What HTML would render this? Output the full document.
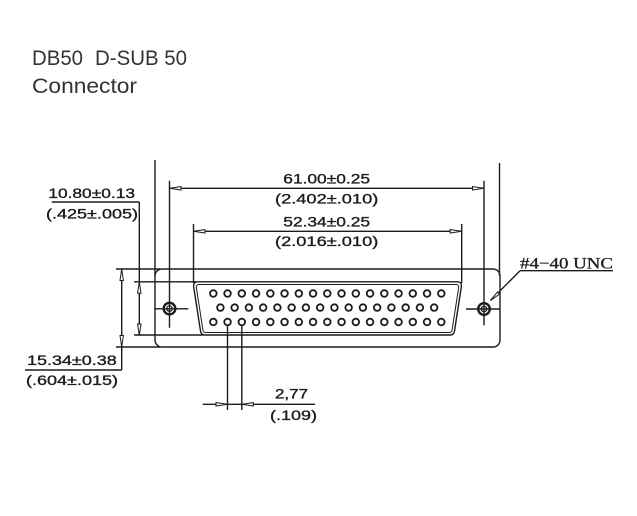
<!DOCTYPE html>
<html>
<head>
<meta charset="utf-8">
<style>
html,body{margin:0;padding:0;background:#fff;}
svg{display:block;}
</style>
</head>
<body>
<svg width="637" height="516" viewBox="0 0 637 516" xmlns="http://www.w3.org/2000/svg">
<rect width="637" height="516" fill="#fff"/>
<!-- Title -->
<g font-family="Liberation Sans, sans-serif" font-size="21" fill="#333">
<text x="32" y="65" textLength="51" lengthAdjust="spacingAndGlyphs">DB50</text>
<text x="95" y="65" textLength="92" lengthAdjust="spacingAndGlyphs">D-SUB 50</text>
<text x="32" y="93" textLength="105" lengthAdjust="spacingAndGlyphs">Connector</text>
</g>

<g stroke="#1c1c1c" stroke-width="1.4" fill="none">
<!-- flange -->
<rect x="155" y="269" width="345" height="78" rx="7" ry="7"/>
<!-- extension lines left -->
<line x1="116" y1="269" x2="160" y2="269"/>
<line x1="116" y1="347" x2="160" y2="347"/>
<line x1="134" y1="281.8" x2="196" y2="281.8"/>
<line x1="134" y1="335" x2="203" y2="335"/>
<!-- vertical extension lines -->
<line x1="155" y1="160" x2="155" y2="276"/>
<line x1="499.5" y1="163" x2="499.5" y2="276"/>
<line x1="169.5" y1="180.7" x2="169.5" y2="327.7"/>
<line x1="484" y1="180.7" x2="484" y2="325.5"/>
<line x1="193.5" y1="224" x2="193.5" y2="283"/>
<line x1="461.7" y1="224" x2="461.7" y2="283"/>
<!-- 61.00 dimension -->
<line x1="169.5" y1="188.3" x2="484" y2="188.3"/>
<!-- 52.34 dimension -->
<line x1="193.5" y1="231.3" x2="461.7" y2="231.3"/>
<!-- 10.80 dimension -->
<line x1="51.7" y1="202" x2="139.3" y2="202"/>
<line x1="139.3" y1="202" x2="139.3" y2="335.5"/>
<!-- 15.34 dimension -->
<line x1="25" y1="370" x2="121.7" y2="370"/>
<line x1="121.7" y1="269" x2="121.7" y2="370"/>
<!-- crosshairs -->
<line x1="154.3" y1="308.8" x2="188.3" y2="308.8"/>
<line x1="466" y1="309" x2="500" y2="309"/>
<!-- D shell -->
<path d="M198,281.8 L457,281.8 Q462,281.8 461.3,287 L454.5,331 Q454,335 450,335 L205,335 Q201,335 200.5,331 L193.7,287 Q193,281.8 198,281.8 Z"/>
<path d="M199,284.5 L456,284.5 Q459,284.5 458.6,288 L452,330.5 Q451.5,332.5 449,332.5 L206,332.5 Q203.5,332.5 203,330.5 L196.4,288 Q196,284.5 199,284.5 Z" stroke-width="1"/>
<!-- pin leaders -->
<line x1="227.5" y1="325" x2="227.5" y2="410"/>
<line x1="241.8" y1="325" x2="241.8" y2="410"/>
<line x1="202.7" y1="404.3" x2="315" y2="404.3"/>
<!-- #4-40 leader -->
<line x1="520" y1="270.7" x2="613" y2="270.7"/>
<line x1="520" y1="270.7" x2="490.5" y2="300.5"/>
</g>

<!-- arrowheads -->
<g stroke="#1c1c1c" stroke-width="1" fill="#fff">
<path d="M169.5,188.3 L181,186.6 L181,190 Z"/>
<path d="M484,188.3 L472.5,186.6 L472.5,190 Z"/>
<path d="M193.5,231.3 L205,229.6 L205,233 Z"/>
<path d="M461.7,231.3 L450.2,229.6 L450.2,233 Z"/>
<path d="M121.7,269 L120,280.5 L123.4,280.5 Z"/>
<path d="M121.7,347 L120,335.5 L123.4,335.5 Z"/>
<path d="M139.3,281.8 L137.6,293.3 L141,293.3 Z"/>
<path d="M139.3,335.5 L137.6,324 L141,324 Z"/>
<path d="M227.5,404.3 L216,402.6 L216,406 Z"/>
<path d="M241.8,404.3 L253.3,402.6 L253.3,406 Z"/>
<path d="M490.5,300.5 L497.5,292 L499.5,294.2 Z"/>
</g>

<!-- screws -->
<g stroke="#1c1c1c" fill="none">
<circle cx="169.5" cy="308.6" r="5.8" stroke-width="2.4"/>
<circle cx="169.5" cy="308.6" r="2.8" stroke-width="1.2"/>
<circle cx="484" cy="309" r="5.8" stroke-width="2.4"/>
<circle cx="484" cy="309" r="2.8" stroke-width="1.2"/>
</g>

<!-- pins -->
<g stroke="#1c1c1c" stroke-width="1.8" fill="#fff">
<circle cx="213.3" cy="293.5" r="3.3"/><circle cx="227.55" cy="293.5" r="3.3"/><circle cx="241.8" cy="293.5" r="3.3"/><circle cx="256.05" cy="293.5" r="3.3"/><circle cx="270.3" cy="293.5" r="3.3"/><circle cx="284.55" cy="293.5" r="3.3"/><circle cx="298.8" cy="293.5" r="3.3"/><circle cx="313.05" cy="293.5" r="3.3"/><circle cx="327.3" cy="293.5" r="3.3"/><circle cx="341.55" cy="293.5" r="3.3"/><circle cx="355.8" cy="293.5" r="3.3"/><circle cx="370.05" cy="293.5" r="3.3"/><circle cx="384.3" cy="293.5" r="3.3"/><circle cx="398.55" cy="293.5" r="3.3"/><circle cx="412.8" cy="293.5" r="3.3"/><circle cx="427.05" cy="293.5" r="3.3"/><circle cx="441.3" cy="293.5" r="3.3"/>
<circle cx="220.4" cy="307.6" r="3.3"/><circle cx="234.65" cy="307.6" r="3.3"/><circle cx="248.9" cy="307.6" r="3.3"/><circle cx="263.15" cy="307.6" r="3.3"/><circle cx="277.4" cy="307.6" r="3.3"/><circle cx="291.65" cy="307.6" r="3.3"/><circle cx="305.9" cy="307.6" r="3.3"/><circle cx="320.15" cy="307.6" r="3.3"/><circle cx="334.4" cy="307.6" r="3.3"/><circle cx="348.65" cy="307.6" r="3.3"/><circle cx="362.9" cy="307.6" r="3.3"/><circle cx="377.15" cy="307.6" r="3.3"/><circle cx="391.4" cy="307.6" r="3.3"/><circle cx="405.65" cy="307.6" r="3.3"/><circle cx="419.9" cy="307.6" r="3.3"/><circle cx="434.15" cy="307.6" r="3.3"/>
<circle cx="213.3" cy="322" r="3.3"/><circle cx="227.55" cy="322" r="3.3"/><circle cx="241.8" cy="322" r="3.3"/><circle cx="256.05" cy="322" r="3.3"/><circle cx="270.3" cy="322" r="3.3"/><circle cx="284.55" cy="322" r="3.3"/><circle cx="298.8" cy="322" r="3.3"/><circle cx="313.05" cy="322" r="3.3"/><circle cx="327.3" cy="322" r="3.3"/><circle cx="341.55" cy="322" r="3.3"/><circle cx="355.8" cy="322" r="3.3"/><circle cx="370.05" cy="322" r="3.3"/><circle cx="384.3" cy="322" r="3.3"/><circle cx="398.55" cy="322" r="3.3"/><circle cx="412.8" cy="322" r="3.3"/><circle cx="427.05" cy="322" r="3.3"/><circle cx="441.3" cy="322" r="3.3"/>
</g>

<!-- dimension text -->
<g font-family="Liberation Sans, sans-serif" font-size="14" fill="#1c1c1c" stroke="#1c1c1c" stroke-width="0.35">
<text x="283.3" y="183.5" textLength="86.7" lengthAdjust="spacingAndGlyphs">61.00±0.25</text>
<text x="275" y="203.3" textLength="103.3" lengthAdjust="spacingAndGlyphs">(2.402±.010)</text>
<text x="283.3" y="226.7" textLength="86.7" lengthAdjust="spacingAndGlyphs">52.34±0.25</text>
<text x="275" y="246" textLength="103.3" lengthAdjust="spacingAndGlyphs">(2.016±.010)</text>
<text x="48.3" y="198" textLength="86.7" lengthAdjust="spacingAndGlyphs">10.80±0.13</text>
<text x="46" y="218.3" textLength="92" lengthAdjust="spacingAndGlyphs">(.425±.005)</text>
<text x="27" y="365" textLength="89.7" lengthAdjust="spacingAndGlyphs">15.34±0.38</text>
<text x="26" y="385" textLength="92" lengthAdjust="spacingAndGlyphs">(.604±.015)</text>
<text x="275" y="398.3" textLength="33" lengthAdjust="spacingAndGlyphs">2,77</text>
<text x="270" y="420" textLength="47" lengthAdjust="spacingAndGlyphs">(.109)</text>
</g>
<text x="520" y="268.3" font-family="Liberation Serif, serif" font-size="16" fill="#1c1c1c" stroke="#1c1c1c" stroke-width="0.3" textLength="93" lengthAdjust="spacingAndGlyphs">#4−40  UNC</text>
</svg>
</body>
</html>
